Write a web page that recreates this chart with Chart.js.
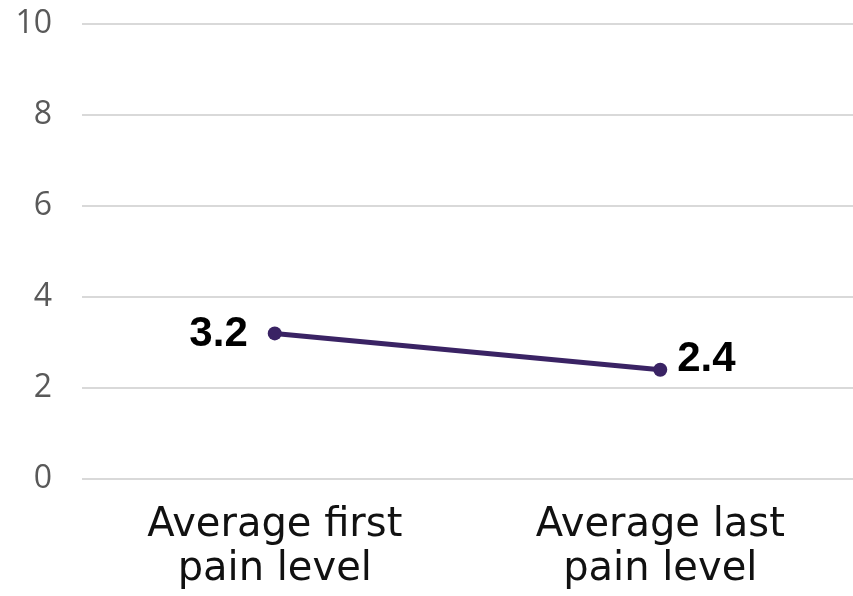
<!DOCTYPE html>
<html>
<head>
<meta charset="utf-8">
<script src="https://cdn.jsdelivr.net/npm/chart.js@4/dist/chart.umd.min.js"></script>
<style>
  html, body { margin: 0; padding: 0; background: #fff; }
  #wrap { width: 853px; height: 596px; }
</style>
</head>
<body>
<div id="wrap"><canvas id="painChart"></canvas></div>
<script>
'use strict';

// pain level averages
const categories = [['Average first', 'pain level'], ['Average last', 'pain level']];
const painValues = [3.2, 2.4];
const yTicks = [0, 2, 4, 6, 8, 10];

const lineColor = '#3a2364';

// value labels next to each point: first one on the left, the rest on the right
const valueLabels = {
    id: 'valueLabels',
    afterDatasetsDraw(chart) {
        const ctx = chart.ctx;
        const meta = chart.getDatasetMeta(0);
        ctx.save();
        ctx.font = 'bold 42px "Liberation Sans", Arial, sans-serif';
        ctx.fillStyle = '#000';
        ctx.textBaseline = 'middle';
        meta.data.forEach((pt, i) => {
            const txt = String(chart.data.datasets[0].data[i]);
            if (i === 0) {
                ctx.textAlign = 'right';
                ctx.fillText(txt, pt.x - 27, pt.y + 1);
            } else {
                ctx.textAlign = 'left';
                ctx.fillText(txt, pt.x + 17, pt.y - 10);
            }
        });
        ctx.restore();
    }
};

new Chart(document.getElementById('painChart'), {
    type: 'line',
    data: {
        labels: categories,
        datasets: [{
            data: painValues,
            borderColor: lineColor,
            backgroundColor: lineColor,
            borderWidth: 5,
            pointRadius: 7,
            pointBorderWidth: 0,
            pointHoverRadius: 7,
            tension: 0
        }]
    },
    options: {
        responsive: true,
        maintainAspectRatio: false,
        animation: false,
        layout: { autoPadding: false, padding: { top: 24, right: 0, left: 0, bottom: 0 } },
        plugins: {
            legend: { display: false },
            tooltip: { enabled: false }
        },
        scales: {
            x: {
                offset: true,
                grid: { display: false, drawTicks: false },
                border: { display: false },
                ticks: {
                    color: '#111',
                    font: { family: '"DejaVu Sans", sans-serif', size: 40, lineHeight: 1.1 },
                    padding: 25,
                    maxRotation: 0
                },
                afterFit(scale) {
                    scale.height = 117;
                    scale.paddingLeft = 0;
                    scale.paddingRight = 0;
                }
            },
            y: {
                min: 0,
                max: 10,
                afterBuildTicks(axis) {
                    axis.ticks = yTicks.map(v => ({ value: v }));
                },
                grid: { color: '#d9d9d9', lineWidth: 2, drawTicks: false },
                border: { display: false },
                ticks: {
                    color: '#595959',
                    font: { family: '"Open Sans", sans-serif', size: 32 },
                    padding: 30
                },
                afterFit(scale) {
                    scale.width = 82;
                    scale.paddingTop = 0;
                    scale.paddingBottom = 0;
                }
            }
        }
    },
    plugins: [valueLabels]
});
</script>
</body>
</html>
